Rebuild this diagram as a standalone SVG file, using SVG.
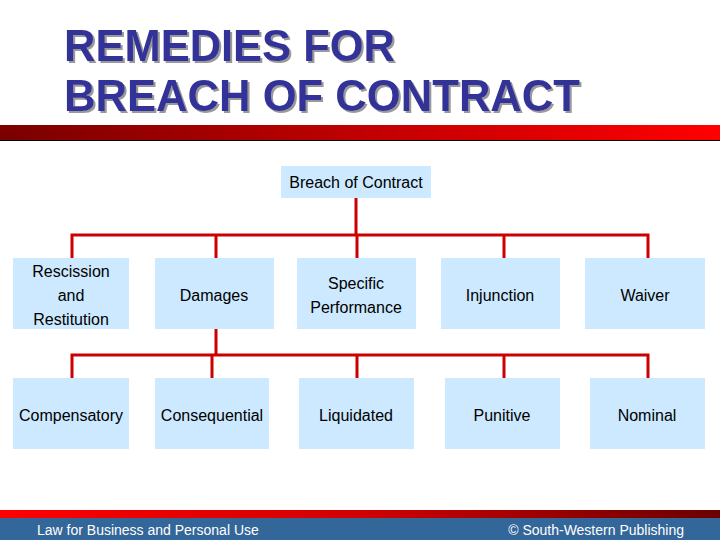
<svg xmlns="http://www.w3.org/2000/svg" width="720" height="540" viewBox="0 0 720 540">
<defs>
<linearGradient id="rt" x1="0" x2="1"><stop offset="0" stop-color="#7a0000"/><stop offset="0.5" stop-color="#c00000"/><stop offset="1" stop-color="#ff0000"/></linearGradient>
<linearGradient id="rb" x1="0" x2="1"><stop offset="0" stop-color="#ff0000"/><stop offset="0.5" stop-color="#d00000"/><stop offset="1" stop-color="#6a0000"/></linearGradient>
<filter id="sh" x="-5%" y="-20%" width="110%" height="140%"><feDropShadow dx="2" dy="2" stdDeviation="0.5" flood-color="#999999" flood-opacity="1"/></filter>
<style>
.b{fill:#cce9ff}
.t{font-family:"Liberation Sans",Arial,sans-serif;font-size:16px;fill:#000;text-anchor:middle}
.c{stroke:#cc0000;stroke-width:3;fill:none}
.h{font-family:"Liberation Sans",Arial,sans-serif;font-size:44px;font-weight:bold;fill:#333399}
.f{font-family:"Liberation Sans",Arial,sans-serif;font-size:14px;fill:#fff}
</style>
</defs>
<rect width="720" height="540" fill="#fff"/>
<g id="title" filter="url(#sh)">
<text class="h" x="64" y="61" textLength="331" lengthAdjust="spacingAndGlyphs">REMEDIES FOR</text>
<text class="h" x="64" y="111" textLength="516" lengthAdjust="spacingAndGlyphs">BREACH OF CONTRACT</text>
</g>
<rect x="0" y="125" width="720" height="15" fill="url(#rt)"/>
<line x1="0" y1="140.5" x2="720" y2="140.5" stroke="#000" stroke-width="1"/>
<g id="connectors">
<path class="c" d="M356 198V235M72 258V235H648V258M216 235V258M357 235V258M504 235V258"/>
<path class="c" d="M216 329V355M72 378V355H648V378M212 355V378M357 355V378M504 355V378"/>
</g>
<g id="n0"><rect class="b" x="281" y="166" width="150" height="32"/><text class="t" x="356" y="188">Breach of Contract</text></g>
<g id="n1"><rect class="b" x="13" y="258" width="116" height="71"/><text class="t" x="71" y="277">Rescission</text><text class="t" x="71" y="301">and</text><text class="t" x="71" y="325">Restitution</text></g>
<g id="n2"><rect class="b" x="155" y="258" width="119" height="71"/><text class="t" x="214" y="301">Damages</text></g>
<g id="n3"><rect class="b" x="297" y="258" width="119" height="71"/><text class="t" x="356" y="289">Specific</text><text class="t" x="356" y="313">Performance</text></g>
<g id="n4"><rect class="b" x="441" y="258" width="119" height="71"/><text class="t" x="500" y="301">Injunction</text></g>
<g id="n5"><rect class="b" x="585" y="258" width="120" height="71"/><text class="t" x="645" y="301">Waiver</text></g>
<g id="n6"><rect class="b" x="13" y="378" width="116" height="71"/><text class="t" x="71" y="421">Compensatory</text></g>
<g id="n7"><rect class="b" x="155" y="378" width="114" height="71"/><text class="t" x="212" y="421">Consequential</text></g>
<g id="n8"><rect class="b" x="299" y="378" width="115" height="71"/><text class="t" x="356" y="421">Liquidated</text></g>
<g id="n9"><rect class="b" x="445" y="378" width="115" height="71"/><text class="t" x="502" y="421">Punitive</text></g>
<g id="n10"><rect class="b" x="590" y="378" width="115" height="71"/><text class="t" x="647" y="421">Nominal</text></g>
<rect x="0" y="510" width="720" height="8" fill="url(#rb)"/>
<rect x="0" y="518" width="720" height="22" fill="#336699"/>
<text class="f" x="37" y="535">Law for Business and Personal Use</text>
<text class="f" x="684" y="535" text-anchor="end">© South-Western Publishing</text>
</svg>
